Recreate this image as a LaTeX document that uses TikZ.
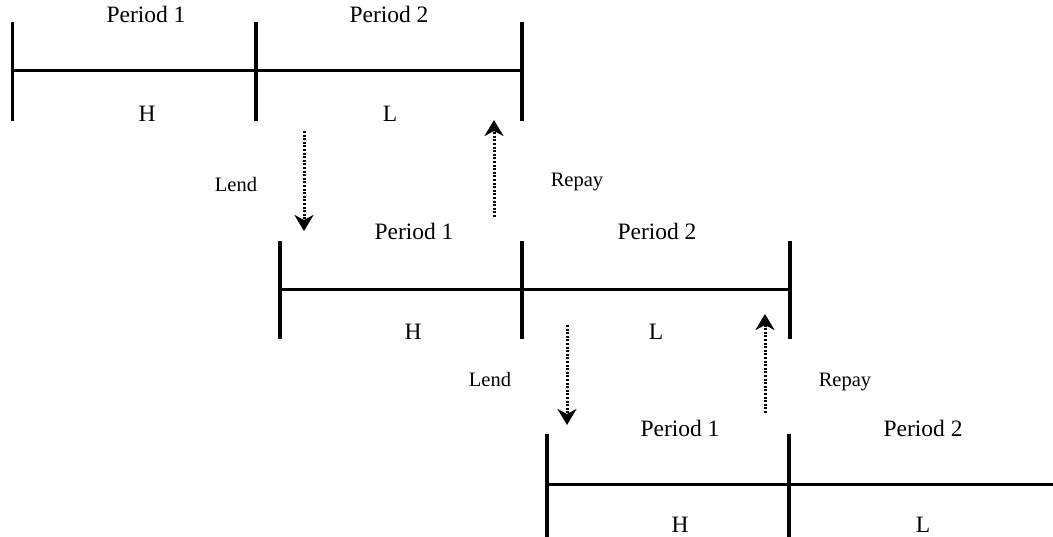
\documentclass[tikz,border=0pt]{standalone}
\usepackage{fontspec}
\setmainfont{Liberation Serif}
\usetikzlibrary{arrows.meta}
\begin{document}
\begin{tikzpicture}[x=1pt,y=-1pt,
  axis/.style={line width=3pt},
  tick/.style={line width=3.2pt},
  flow/.style={line width=3pt,dash pattern=on 2pt off 1.6pt,
    -{Stealth[length=16pt,width=19pt,inset=5pt]}},
  per/.style={inner sep=0pt,anchor=base,font=\fontsize{23.5}{28}\selectfont},
  act/.style={inner sep=0pt,anchor=base,font=\fontsize{20.5}{24}\selectfont}]
\useasboundingbox (0,0) rectangle (1053,537);
% timeline 1
\coordinate (a0t) at (12.5,22); \coordinate (a0b) at (12.5,121);
\coordinate (a1t) at (256,22);  \coordinate (a1b) at (256,121);
\coordinate (a2t) at (522,22);  \coordinate (a2b) at (522,121);
\coordinate (a0m) at (12.5,70.5); \coordinate (a2m) at (522,70.5);
\draw[tick] (a0t) -- (a0b);
\draw[tick] (a1t) -- (a1b);
\draw[tick] (a2t) -- (a2b);
\draw[axis] (a0m) -- (a2m);
\node[per] (ap1) at (146,23) {Period 1};
\node[per] (ap2) at (389,23) {Period 2};
\node[per] (ah) at (147,122) {H};
\node[per] (al) at (390,122) {L};
% timeline 2
\coordinate (b0t) at (280,241); \coordinate (b0b) at (280,339);
\coordinate (b1t) at (522,241); \coordinate (b1b) at (522,339);
\coordinate (b2t) at (790,241); \coordinate (b2b) at (790,339);
\coordinate (b0m) at (280,290); \coordinate (b2m) at (790,290);
\draw[tick] (b0t) -- (b0b);
\draw[tick] (b1t) -- (b1b);
\draw[tick] (b2t) -- (b2b);
\draw[axis] (b0m) -- (b2m);
\node[per] (bp1) at (414,240) {Period 1};
\node[per] (bp2) at (657,240) {Period 2};
\node[per] (bh) at (413,340) {H};
\node[per] (bl) at (656,340) {L};
% timeline 3
\coordinate (c0t) at (547,434); \coordinate (c0b) at (547,537);
\coordinate (c1t) at (789,434); \coordinate (c1b) at (789,537);
\coordinate (c0m) at (547,484); \coordinate (c2m) at (1053,484);
\draw[tick] (c0t) -- (c0b);
\draw[tick] (c1t) -- (c1b);
\draw[axis] (c0m) -- (c2m);
\node[per] (cp1) at (680,436) {Period 1};
\node[per] (cp2) at (923,436) {Period 2};
\node[per] (ch) at (680,532) {H};
\node[per] (cl) at (923,532) {L};
% flows
\coordinate (l1s) at (304,131); \coordinate (l1e) at (304,231);
\coordinate (r1s) at (494,217); \coordinate (r1e) at (494,120);
\coordinate (l2s) at (567,325); \coordinate (l2e) at (567,425);
\coordinate (r2s) at (765,413); \coordinate (r2e) at (765,314);
\draw[flow] (l1s) -- (l1e);
\draw[flow] (r1s) -- (r1e);
\draw[flow] (l2s) -- (l2e);
\draw[flow] (r2s) -- (r2e);
\node[act] (lend1) at (236,192) {Lend};
\node[act] (repay1) at (577,187) {Repay};
\node[act] (lend2) at (490,387) {Lend};
\node[act] (repay2) at (845,387) {Repay};
\end{tikzpicture}
\end{document}
